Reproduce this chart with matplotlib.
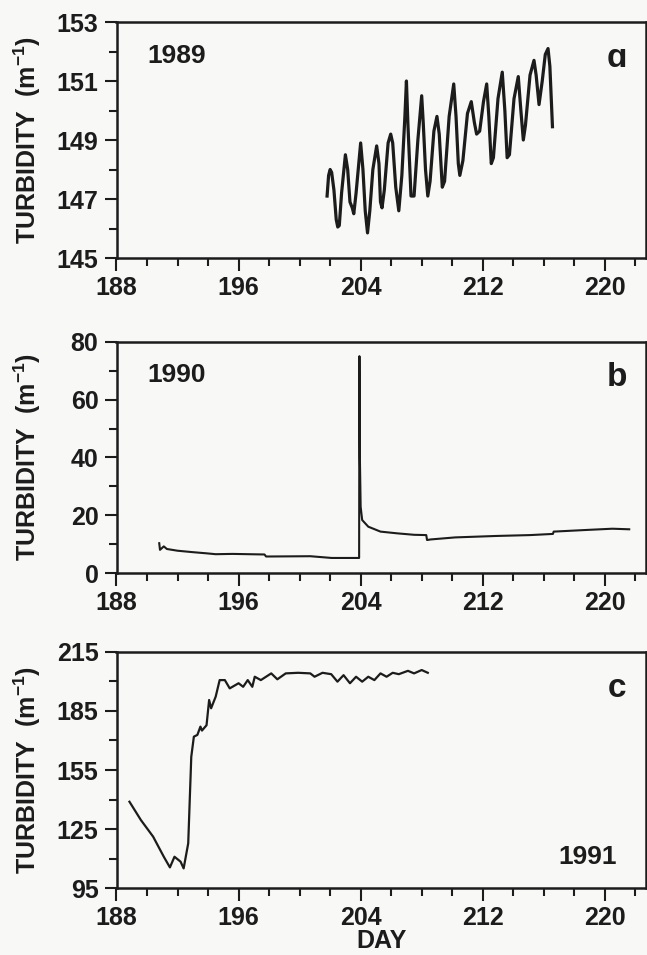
import numpy as np
import matplotlib
matplotlib.use("Agg")
import matplotlib.pyplot as plt

plt.rcParams['font.family'] = ['Liberation Sans', 'DejaVu Sans']
plt.rcParams['font.weight'] = 'bold'
plt.rcParams['mathtext.fontset'] = 'custom'
plt.rcParams['mathtext.rm'] = 'Liberation Sans:bold'
plt.rcParams['mathtext.bf'] = 'Liberation Sans:bold'
plt.rcParams['mathtext.default'] = 'bf'

# --- 1989 (panel a) ---
dia_89 = [201.8, 201.9, 202.0, 202.1, 202.25, 202.4, 202.5, 202.6, 202.75, 203.0,
          203.15, 203.3, 203.45, 203.55, 203.7, 204.0, 204.15, 204.3, 204.45, 204.6,
          204.8, 205.05, 205.2, 205.3, 205.4, 205.55, 205.8, 205.97, 206.1, 206.3,
          206.5, 206.7, 206.9, 207.0, 207.1, 207.3, 207.5, 207.75, 208.0, 208.1,
          208.25, 208.4, 208.55, 208.8, 209.0, 209.15, 209.35, 209.5, 209.8, 210.1,
          210.25, 210.4, 210.5, 210.7, 211.0, 211.25, 211.45, 211.6, 211.8, 212.05,
          212.26, 212.4, 212.56, 212.7, 213.0, 213.28, 213.45, 213.6, 213.75, 214.05,
          214.33, 214.5, 214.66, 214.8, 215.1, 215.36, 215.5, 215.69, 215.9, 216.1,
          216.28, 216.4, 216.57]
turb_89 = [147.1, 147.8, 148.0, 147.9, 147.3, 146.3, 146.05, 146.1, 147.2, 148.5,
           148.0, 146.9, 146.7, 146.5, 147.2, 148.9, 148.0, 146.6, 145.85, 146.6,
           148.0, 148.8, 148.2, 146.9, 146.7, 147.3, 148.9, 149.2, 148.9, 147.4,
           146.6, 147.8, 149.8, 151.0, 149.5, 147.1, 147.1, 149.0, 150.5, 149.6,
           148.0, 147.1, 147.6, 149.3, 149.8, 149.2, 147.4, 147.6, 149.8, 150.9,
           149.8, 148.2, 147.8, 148.3, 149.9, 150.3, 149.6, 149.2, 149.3, 150.3,
           150.9, 149.8, 148.2, 148.4, 150.4, 151.3, 150.0, 148.4, 148.5, 150.4,
           151.15, 150.0, 149.0, 149.5, 151.2, 151.7, 151.2, 150.2, 151.0, 151.9,
           152.1, 151.5, 149.45]

# --- 1990 (panel b) ---
dia_90 = [190.8, 190.85, 191.1, 191.3, 192.0, 193.0, 193.9, 194.5, 195.6, 197.7,
          197.8, 200.7, 202.1, 203.9, 203.92, 203.95, 204.0, 204.1, 204.5, 205.3,
          206.4, 207.5, 208.3, 208.35, 208.6, 210.2, 212.9, 215.1, 216.6, 216.65,
          218.9, 220.5, 221.6]
turb_90 = [10.4, 8.1, 9.3, 8.4, 7.8, 7.3, 6.9, 6.6, 6.7, 6.5,
           5.8, 5.9, 5.3, 5.3, 75.0, 40.0, 23.0, 18.4, 16.1, 14.4,
           13.8, 13.3, 13.2, 11.5, 11.7, 12.4, 12.9, 13.2, 13.6, 14.4,
           15.0, 15.4, 15.2]

# --- 1991 (panel c) ---
dia_91 = [188.85, 189.6, 190.4, 191.1, 191.5, 191.8, 192.2, 192.4, 192.7, 192.9,
          193.07, 193.3, 193.5, 193.6, 193.9, 194.07, 194.2, 194.5, 194.76, 195.1,
          195.42, 196.0, 196.3, 196.6, 196.9, 197.06, 197.46, 198.14, 198.54, 199.09,
          199.9, 200.7, 200.98, 201.5, 202.07, 202.48, 202.88, 203.3, 203.7, 204.1,
          204.5, 204.9, 205.3, 205.7, 206.1, 206.5, 207.1, 207.5, 208.0, 208.4]
turb_91 = [138.9, 129.6, 121.2, 111.0, 105.6, 111.0, 108.5, 105.1, 117.8, 161.7,
           171.9, 172.8, 177.0, 175.0, 177.7, 190.5, 186.3, 192.2, 200.6, 200.6,
           196.4, 199.0, 197.2, 200.6, 197.2, 202.3, 200.6, 204.0, 201.0, 204.0,
           204.3, 204.0, 202.3, 204.3, 203.6, 199.8, 203.1, 199.0, 202.3, 199.8,
           202.3, 200.6, 204.0, 202.3, 204.3, 203.6, 205.3, 204.0, 205.7, 204.3]

# ticks
dias_mayor = [188, 196, 204, 212, 220]
dias_menor = list(range(188, 223, 2))
ticks_89 = [145, 147, 149, 151, 153]
ticks_90 = [0, 20, 40, 60, 80]
ticks_91 = [95, 125, 155, 185, 215]

fondo = '#f8f8f6'
tinta = '#1c1c1c'

fig = plt.figure(figsize=(6.47, 9.55), dpi=100, facecolor=fondo)

izq = 116.5 / 647
ancho = (646 - 116.5) / 647
paneles = [
    (1 - 258 / 955, (258 - 22) / 955, dia_89, turb_89, ticks_89, 2.3, '1989', 'ɑ'),
    (1 - 573.3 / 955, (573.3 - 341.7) / 955, dia_90, turb_90, ticks_90, 1.5, '1990', 'b'),
    (1 - 888.3 / 955, (888.3 - 651.7) / 955, dia_91, turb_91, ticks_91, 1.6, '1991', 'c'),
]

ejes = []
for abajo, alto, x, y, yt, lw, anio, letra in paneles:
    ax = fig.add_axes([izq, abajo, ancho, alto])
    ax.set_facecolor(fondo)
    ax.plot(x, y, color=tinta, lw=lw, solid_joinstyle='round')
    ax.set_xlim(188, 222.7)
    ax.set_ylim(yt[0], yt[-1])
    ax.set_xticks(dias_mayor)
    ax.set_xticks(dias_menor, minor=True)
    ax.set_yticks(yt)
    paso = (yt[1] - yt[0]) / 2
    ax.set_yticks([v + paso for v in yt[:-1]], minor=True)
    ax.tick_params(which='major', direction='out', length=9, width=1.5,
                   labelsize=18, pad=4, color=tinta, labelcolor=tinta)
    ax.tick_params(which='minor', direction='out', length=5.5, width=1.5, color=tinta)
    for s in ax.spines.values():
        s.set_linewidth(1.8)
        s.set_color(tinta)
    for lab in ax.get_xticklabels() + ax.get_yticklabels():
        lab.set_fontweight('bold')
    ax.set_ylabel('TURBIDITY  (m$^{-1}$)', fontsize=18, fontweight='bold',
                  color=tinta)
    ax.yaxis.set_label_coords(-0.139, 0.5)
    ax.text(0.945, 0.845, letra, transform=ax.transAxes, fontsize=24,
            ha='center', va='center', color=tinta)
    if anio == '1991':
        ax.text(0.89, 0.134, anio, transform=ax.transAxes, fontsize=19,
                ha='center', va='center', color=tinta)
    else:
        ax.text(0.114, 0.855, anio, transform=ax.transAxes, fontsize=19,
                ha='center', va='center', color=tinta)
    ejes.append(ax)

ejes[2].set_xlabel('DAY', fontsize=18, fontweight='bold', color=tinta, labelpad=-1)

fig.savefig('out.png', dpi=100, facecolor=fondo)
